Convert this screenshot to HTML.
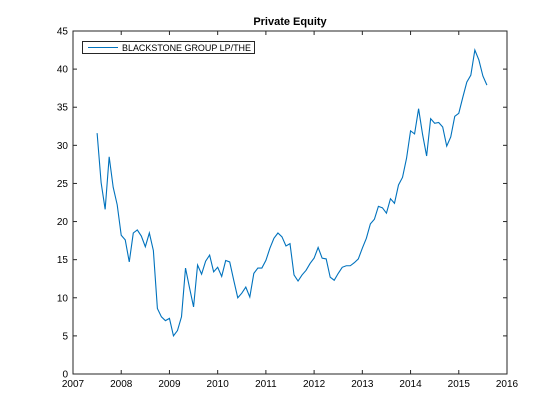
<!DOCTYPE html>
<html><head><meta charset="utf-8"><style>
html,body{margin:0;padding:0;background:#fff;}
svg{display:block;font-family:"Liberation Sans",sans-serif;}
</style></head><body>
<svg id="chart" width="560" height="420" viewBox="0 0 560 420">
<rect x="0" y="0" width="560" height="420" fill="#fff"/>
<text x="290" y="25" text-anchor="middle" font-size="11" font-weight="bold" fill="#000">Private Equity</text>
<g id="axes"></g>
<path id="series" fill="none" stroke="#0072bd" stroke-width="1.1"/>
<rect x="73" y="31" width="434" height="343" fill="none" stroke="#262626" stroke-width="1"/>
<g>
<rect x="82.5" y="41.5" width="172" height="12" fill="#fff" stroke="#262626" stroke-width="1"/>
<line x1="88" y1="47.5" x2="118" y2="47.5" stroke="#0072bd" stroke-width="1.1"/>
<text x="122" y="51" font-size="9.5" fill="#000" textLength="129" lengthAdjust="spacingAndGlyphs">BLACKSTONE GROUP LP/THE</text>
</g>
</svg>
<script>
const startYear = 2007.5;
const values = [31.6,25.1,21.6,28.5,24.5,22.2,18.2,17.6,14.7,18.5,18.9,18.1,16.7,18.5,16.2,8.6,7.5,7.0,7.3,5.0,5.7,7.5,13.9,11.3,8.8,14.3,13.1,14.8,15.6,13.4,14.0,12.8,14.9,14.7,12.3,10.0,10.6,11.4,10.1,13.2,13.9,13.9,14.9,16.5,17.8,18.5,18.0,16.8,17.1,
13.0,12.2,13.0,13.6,14.5,15.2,16.6,15.2,15.1,12.7,12.3,13.2,14.0,14.2,14.2,14.6,15.1,16.5,17.8,19.7,20.3,22.0,21.8,21.1,23.0,22.4,24.8,25.8,28.3,31.9,31.5,34.8,31.4,28.6,33.5,32.9,33.0,32.4,29.9,31.1,33.8,34.2,36.3,38.3,39.2,42.5,41.2,39.1,37.9];
const xTicks = [2007,2008,2009,2010,2011,2012,2013,2014,2015,2016];
const yTicks = [0,5,10,15,20,25,30,35,40,45];
const X0=73,X1=507,Y0=374,Y1=31;
function xs(v){return X0+(v-2007)/(2016-2007)*(X1-X0);}
function ys(v){return Y0-(v-0)/(45-0)*(Y0-Y1);}
const NS="http://www.w3.org/2000/svg";
const ax=document.getElementById('axes');
xTicks.forEach(t=>{
  const x=xs(t);
  [[Y0,Y0-4],[Y1,Y1+4]].forEach(p=>{
    const l=document.createElementNS(NS,'line');
    l.setAttribute('x1',x);l.setAttribute('x2',x);l.setAttribute('y1',p[0]);l.setAttribute('y2',p[1]);
    l.setAttribute('stroke','#262626');
    
    
    ax.appendChild(l);
  });
  const tx=document.createElementNS(NS,'text');
  tx.setAttribute('x',x);tx.setAttribute('y',Y0+13);tx.setAttribute('text-anchor','middle');tx.setAttribute('font-size','10');
  tx.textContent=t;
  
  
  ax.appendChild(tx);
});
yTicks.forEach(t=>{
  const y=ys(t);
  [[X0,X0+4],[X1,X1-4]].forEach(p=>{
    const l=document.createElementNS(NS,'line');
    l.setAttribute('y1',y);l.setAttribute('y2',y);l.setAttribute('x1',p[0]);l.setAttribute('x2',p[1]);
    l.setAttribute('stroke','#262626');
    
    
    ax.appendChild(l);
  });
  const tx=document.createElementNS(NS,'text');
  tx.setAttribute('x',X0-5);tx.setAttribute('y',y+3.5);tx.setAttribute('text-anchor','end');tx.setAttribute('font-size','10');
  tx.textContent=t;
  
  
  ax.appendChild(tx);
});
document.getElementById('series').setAttribute('d',values.map((v,i)=>(i?'L':'M')+xs(startYear+i/12).toFixed(2)+','+ys(v).toFixed(2)).join(''));
</script>
</body></html>
